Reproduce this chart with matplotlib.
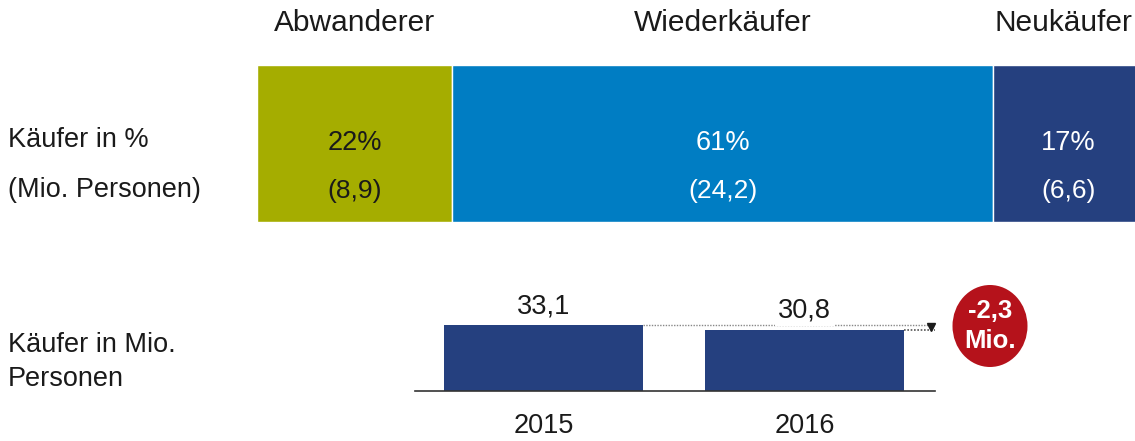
import matplotlib.pyplot as plt
from matplotlib.patches import Ellipse

plt.rcParams['font.family'] = ['Liberation Sans', 'DejaVu Sans']

# data
segments = ['Abwanderer', 'Wiederkäufer', 'Neukäufer']
shares = [22, 61, 17]
persons = ['(8,9)', '(24,2)', '(6,6)']
seg_colors = ['#a5ad00', '#007dc3', '#25407f']
seg_text = ['#1a1a1a', 'white', 'white']

years = ['2015', '2016']
buyers = [33.1, 30.8]
buyer_labels = ['33,1', '30,8']
diff_label = '-2,3\nMio.'

W, H = 1135, 441
fig = plt.figure(figsize=(W / 100, H / 100), dpi=100)


def px_axes(x0, y0, x1, y1):
    # axes from pixel box (top-left origin)
    return fig.add_axes([x0 / W, 1 - y1 / H, (x1 - x0) / W, (y1 - y0) / H])


# top stacked bar (runs a bit past the right edge, like the original)
ax1 = px_axes(257, 65, 1144, 222)
tr = ax1.get_xaxis_transform()
left = 0
for name, s, p, c, tc in zip(segments, shares, persons, seg_colors, seg_text):
    ax1.barh(0.5, s, left=left, height=1, color=c, edgecolor='white', linewidth=1)
    mid = left + s / 2
    ax1.text(mid, 0.50, f'{s}%', ha='center', va='center', fontsize=19.5, color=tc, transform=tr)
    ax1.text(mid, 0.20, p, ha='center', va='center', fontsize=19, color=tc, transform=tr)
    # keep the last heading inside the figure
    ax1.text(min(mid, 90.9), 1.27, name, ha='center', va='center', fontsize=21.5,
             color='#1a1a1a', transform=tr, clip_on=False)
    left += s
ax1.set_xlim(0, 100)
ax1.set_ylim(0, 1)
ax1.axis('off')

lab_kw = dict(ha='left', va='center', fontsize=19.5, color='#1a1a1a')
fig.text(8 / W, 1 - 140 / H, 'Käufer in %', **lab_kw)
fig.text(8 / W, 1 - 190 / H, '(Mio. Personen)', **lab_kw)
fig.text(8 / W, 1 - 345 / H, 'Käufer in Mio.', **lab_kw)
fig.text(8 / W, 1 - 379 / H, 'Personen', **lab_kw)

# bottom bars
ax2 = px_axes(415, 291, 935, 391)
xs = range(len(years))
ax2.bar(xs, buyers, width=0.762, color='#25407f')
ax2.set_xlim(-0.492, 1.5)
ax2.set_ylim(0, 50.2)
bw = 0.762 / 2
ax2.hlines(buyers[0], bw, 1.5, colors='#888888', linestyles=(0, (1, 1)), linewidth=1)
ax2.hlines(buyers[1], 1 + bw, 1.5, colors='#555555', linestyles=(0, (1, 1)), linewidth=1.2)
ax2.plot([1.485], [(buyers[0] + buyers[1]) / 2 + 0.3], marker='v', color='#1a1a1a', markersize=6,
         clip_on=False)
for x, v, lab in zip(xs, buyers, buyer_labels):
    ax2.text(x, v + 3, lab, ha='center', va='bottom', fontsize=19.5, color='#1a1a1a',
             bbox=dict(facecolor='white', edgecolor='none', pad=2))
ax2.set_xticks(list(xs))
ax2.set_xticklabels(years, fontsize=19.5, color='#1a1a1a')
ax2.tick_params(axis='x', length=0, pad=16)
ax2.set_yticks([])
for sp in ['top', 'left', 'right']:
    ax2.spines[sp].set_visible(False)
ax2.spines['bottom'].set_color('#333333')
ax2.spines['bottom'].set_linewidth(1.2)
ax2.patch.set_alpha(0)

# red circle with difference
fig.patches.append(Ellipse((990 / W, 1 - 326 / H), 75 / W, 82 / H, transform=fig.transFigure,
                           facecolor='#b5121b', edgecolor='none'))
fig.text(990 / W, 1 - 326 / H, diff_label, ha='center', va='center', fontsize=18.5,
         fontweight='bold', color='white', linespacing=1.3)

fig.savefig('out.png', dpi=100)
